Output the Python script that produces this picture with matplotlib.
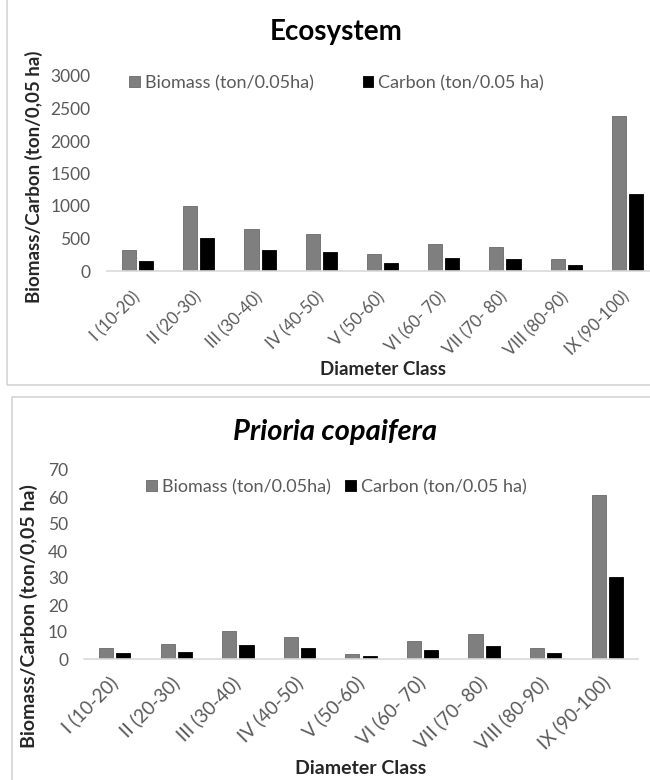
import numpy as np
import matplotlib
matplotlib.use("Agg")
import matplotlib.pyplot as plt
import matplotlib.transforms as mtransforms
from matplotlib.patches import Rectangle

plt.rcParams['font.family'] = ['Lato', 'DejaVu Sans']

classes = ["I (10-20)", "II (20-30)", "III (30-40)", "IV (40-50)", "V (50-60)",
           "VI (60- 70)", "VII (70- 80)", "VIII (80-90)", "IX (90-100)"]

# Ecosystem totals per diameter class
eco_biomass = [325, 1005, 650, 565, 257, 411, 368, 188, 2378]
eco_carbon = [160, 503, 325, 285, 125, 203, 185, 92, 1188]

# Prioria copaifera per diameter class
pc_biomass = [4.1, 5.5, 10.2, 8.3, 1.9, 6.5, 9.3, 4.1, 60.6]
pc_carbon = [2.1, 2.7, 5.2, 4.2, 1.1, 3.2, 4.8, 2.1, 30.4]

W, H = 650, 780
GRAY = '#7f7f7f'
TXT = '#595959'

fig = plt.figure(figsize=(W / 100, H / 100), dpi=100)

# light frames around each chart
fig.patches.append(Rectangle((7 / W, 1 - 385 / H), 1.0, 1.0, transform=fig.transFigure,
                             fill=False, edgecolor='#d4d4d4', linewidth=1.2))
fig.patches.append(Rectangle((12 / W, -0.1), 1.0, 1 - 397 / H + 0.1, transform=fig.transFigure,
                             fill=False, edgecolor='#d4d4d4', linewidth=1.2))


def panel(rect, biomass, carbon, ymax, ystep, fs, xfs, lab_fs, ypad, xpad, xshift, leg_xy, colsp):
    l, t, r, b = rect
    ax = fig.add_axes([l / W, 1 - b / H, (r - l) / W, (b - t) / H])
    x = np.arange(len(classes))
    bw = 0.23
    ax.bar(x - 0.14, biomass, bw, color=GRAY, edgecolor='#6a6a6a', linewidth=0.6,
           label='Biomass (ton/0.05ha)')
    ax.bar(x + 0.14, carbon, bw, color='black', edgecolor='black', linewidth=0.6,
           label='Carbon (ton/0.05 ha)')
    ax.set_xlim(-0.5, len(classes) - 0.5)
    ax.set_ylim(0, ymax)
    ax.set_yticks(np.arange(0, ymax + 1, ystep))
    ax.set_xticks(x)
    ax.set_xticklabels(classes, rotation=45, ha='right', va='center', rotation_mode='anchor')
    shift = mtransforms.ScaledTranslation(xshift / 72, 0, fig.dpi_scale_trans)
    for lab in ax.get_xticklabels():
        lab.set_transform(lab.get_transform() + shift)
    ax.tick_params(axis='both', length=0, colors=TXT)
    ax.tick_params(axis='y', pad=ypad, labelsize=fs)
    ax.tick_params(axis='x', pad=xpad, labelsize=xfs)
    for s in ['top', 'right', 'left']:
        ax.spines[s].set_visible(False)
    ax.spines['bottom'].set_color('#d9d9d9')
    ax.spines['bottom'].set_linewidth(1.2)
    ax.set_xlabel('Diameter Class', fontsize=lab_fs, fontweight='bold', color='#262626')
    ax.set_ylabel('Biomass/Carbon (ton/0,05 ha)', fontsize=lab_fs, fontweight='bold', color='#262626')
    leg = fig.legend(*ax.get_legend_handles_labels(), ncol=2, loc='center left',
                     bbox_to_anchor=(leg_xy[0] / W, 1 - leg_xy[1] / H),
                     bbox_transform=fig.transFigure, frameon=False, fontsize=13,
                     handlelength=0.6, handleheight=0.6, handletextpad=0.28,
                     columnspacing=colsp, borderaxespad=0, borderpad=0)
    for t_ in leg.get_texts():
        t_.set_color(TXT)
    return ax


ax1 = panel((107, 76, 658, 271), eco_biomass, eco_carbon, 3000, 500,
            12.5, 12, 13.5, 12, 17, 2.5, (129, 83), 2.7)
ax1.xaxis.set_label_coords(0.5, -0.462)
ax1.yaxis.set_label_coords(-0.116, 0.482)
fig.text(336 / W, 1 - 32 / H, 'Ecosystem', ha='center', va='center',
         fontsize=20, fontweight='bold', color='black')

ax2 = panel((84, 470, 638, 659), pc_biomass, pc_carbon, 70, 10,
            12.5, 13.5, 14, 11.5, 15, -2.5, (146, 487), 0.8)
ax2.xaxis.set_label_coords(0.5, -0.534)
ax2.yaxis.set_label_coords(-0.083, 0.228)
fig.text(335 / W, 1 - 432 / H, 'Prioria copaifera', ha='center', va='center',
         fontsize=21, fontweight='bold', fontstyle='italic', color='black')

fig.savefig('out.png', dpi=100, facecolor='white')
